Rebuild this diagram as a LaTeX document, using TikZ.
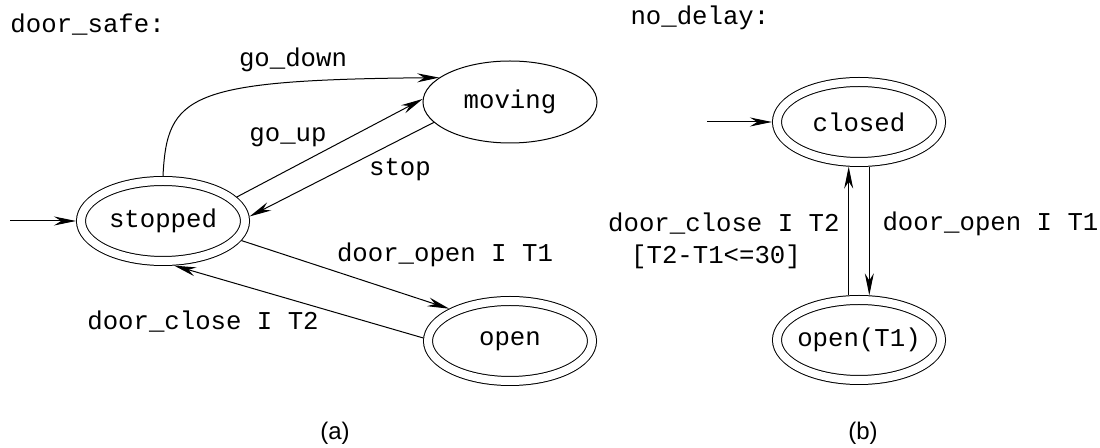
\documentclass[tikz,border=0pt]{standalone}
\usepackage{fontspec}
\setmainfont{Liberation Sans}
\setsansfont{Liberation Sans}
\setmonofont{Liberation Mono}
\usetikzlibrary{shapes.geometric,arrows.meta}

\tikzset{
    state/.style={ellipse, draw, double, double distance=4pt, minimum width=82pt,
        minimum height=40pt, inner sep=0pt, outer sep=2.5pt, font=\ttfamily\fontsize{12.85}{15}\selectfont},
    plainstate/.style={ellipse, draw, minimum width=87pt, minimum height=41pt,
        inner sep=0pt, font=\ttfamily\fontsize{12.85}{15}\selectfont},
    lbl/.style={inner sep=0pt, font=\ttfamily\fontsize{12.85}{15}\selectfont},
    caption/.style={inner sep=0pt, font=\sffamily\fontsize{12}{14}\selectfont}
}

\begin{document}
\begin{tikzpicture}[x=0.5pt, y=-0.5pt, line width=0.5pt, >={Stealth[length=11pt,width=4.5pt]}]
    \useasboundingbox (0,0) rectangle (1100,448);

    % (a) door_safe
    \node[lbl, anchor=west] (safetitle) at (10,25) {door\_safe:};
    \node[state] (stopped) at (163,221) {stopped};
    \node[plainstate] (moving) at (510,102) {moving};
    \node[state] (open) at (510,341) {open};
    \coordinate (init1) at (10,221);

    \draw[->] (init1) -- (stopped);
    \draw[->] (stopped.north) .. controls (167,95) and (188,80) .. (moving.161);
    \draw[->] (stopped.18) -- (moving.178);
    \draw[->] (moving.195) -- (stopped.3);
    \draw[->] (stopped.346) -- (open.152);
    \draw[->] (open.178) -- (stopped.284);

    \node[lbl] (godown) at (293,60) {go\_down};
    \node[lbl] (goup) at (288,137) {go\_up};
    \node[lbl] (stoplbl) at (400,170) {stop};
    \node[lbl] (opent1) at (445,255) {door\_open I T1};
    \node[lbl] (closet2) at (203,322) {door\_close I T2};

    % (b) no_delay
    \node[lbl, anchor=west] (delaytitle) at (630,18) {no\_delay:};
    \node[state] (closed) at (859,122) {closed\hspace{6pt}};
    \node[state, inner xsep=-3pt] (openT1) at (859,340) {open(T1)\hspace{4pt}};
    \coordinate (init2) at (707,122);

    \draw[->] (init2) -- (closed);
    \draw[->] (openT1.103) -- (closed.257);
    \draw[->] (closed.283) -- (openT1.77);

    \node[lbl, anchor=east] (closeT2) at (840,224) {door\_close I T2};
    \node[lbl] (guard) at (716,257) {[T2-T1<=30]};
    \node[lbl, anchor=west] (openT1lbl) at (882,224) {door\_open I T1};

    \node[caption] (capa) at (335,433) {(a)};
    \node[caption] (capb) at (863,433) {(b)};
\end{tikzpicture}
\end{document}
